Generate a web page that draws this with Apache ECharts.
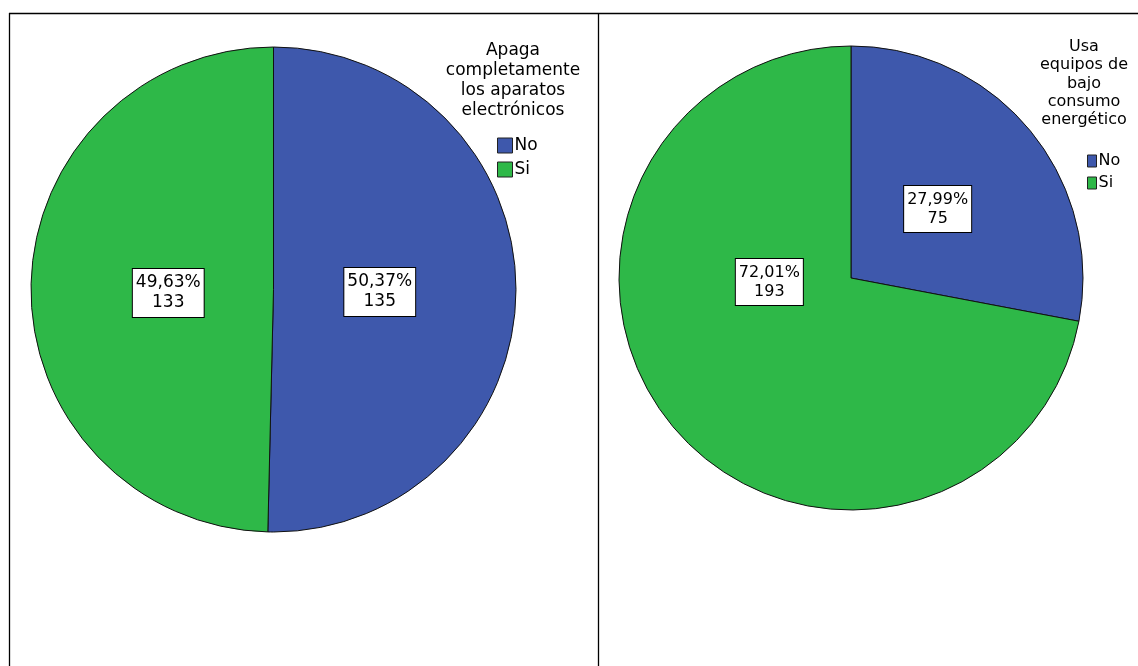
<!DOCTYPE html>
<html>
<head>
<meta charset="utf-8">
<script src="https://cdn.jsdelivr.net/npm/echarts@6/dist/echarts.min.js"></script>
<style>html,body{margin:0;padding:0;background:#fff}#c{width:1138px;height:666px}</style>
</head>
<body>
<div id="c"></div>
<script>
var categories = ['No', 'Si'];
var leftValues = [135, 133];
var rightValues = [75, 193];
var leftTitle = ['Apaga', 'completamente', 'los aparatos', 'electrónicos'];
var rightTitle = ['Usa', 'equipos de', 'bajo', 'consumo', 'energético'];
var colors = ['#3e58ac', '#2eb848'];

// label nudges (styling only), per series per slice
var labelShift = [[[-18, 1], [19, 5]], [[-5, 7], [10, -72]]];

function pct(values, i) {
  var s = values.reduce(function (a, b) { return a + b; }, 0);
  return (values[i] / s * 100).toFixed(2).replace('.', ',') + '%';
}
function makeData(values) {
  return categories.map(function (c, i) {
    return { name: c, value: values[i], itemStyle: { color: colors[i] } };
  });
}
var FONT = 'DejaVu Sans';
function pieSeries(idx, values, center, radius, fs, lh, pad) {
  return {
    type: 'pie',
    center: center,
    radius: radius,
    startAngle: 90,
    clockwise: true,
    avoidLabelOverlap: false,
    animation: false,
    silent: true,
    itemStyle: { borderColor: '#111', borderWidth: 1 },
    label: {
      show: true,
      position: 'inside',
      formatter: function (p) { return pct(values, p.dataIndex) + '\n' + values[p.dataIndex]; },
      color: '#000',
      fontFamily: FONT,
      fontSize: fs,
      lineHeight: lh,
      backgroundColor: '#fff',
      borderColor: '#000',
      borderWidth: 1,
      padding: pad,
      align: 'center'
    },
    labelLine: { show: false },
    labelLayout: function (p) {
      var d = labelShift[idx][p.dataIndex];
      return { dx: d[0], dy: d[1] };
    },
    emphasis: { disabled: true },
    data: makeData(values)
  };
}

var chart = echarts.init(document.getElementById('c'));
var s1 = pieSeries(0, leftValues, [273.5, 289.5], 242.5, 17, 20, [4, 3]);
var s2 = pieSeries(1, rightValues, [851, 278], 232, 16, 19, [4, 3]);
chart.setOption({
  backgroundColor: '#fff',
  animation: false,
  legend: [
    {
      data: categories, orient: 'vertical', left: 492, top: 132,
      itemWidth: 15, itemHeight: 15, itemGap: 7, icon: 'rect',
      itemStyle: { borderColor: '#222', borderWidth: 1 },
      textStyle: { fontFamily: FONT, fontSize: 17, color: '#000', padding: [0, 0, 0, -3] },
      selectedMode: false
    },
    {
      data: categories, orient: 'vertical', left: 1082, top: 148,
      itemWidth: 9, itemHeight: 12, itemGap: 6, icon: 'rect',
      itemStyle: { borderColor: '#222', borderWidth: 1 },
      textStyle: { fontFamily: FONT, fontSize: 16, color: '#000', padding: [0, 0, 0, -3] },
      selectedMode: false
    }
  ],
  graphic: [
    { type: 'line', shape: { x1: 9, y1: 13.5, x2: 1138, y2: 13.5 }, style: { stroke: '#000', lineWidth: 1.3 } },
    { type: 'line', shape: { x1: 9.5, y1: 13, x2: 9.5, y2: 666 }, style: { stroke: '#000', lineWidth: 1.3 } },
    { type: 'line', shape: { x1: 598.5, y1: 13, x2: 598.5, y2: 666 }, style: { stroke: '#000', lineWidth: 1.3 } },
    { type: 'text', x: 513, y: 41, style: { text: leftTitle.join('\n'), fontFamily: FONT, fontSize: 17, lineHeight: 20, fill: '#000', textAlign: 'center', textVerticalAlign: 'top' } },
    { type: 'text', x: 1084, y: 38, style: { text: rightTitle.join('\n'), fontFamily: FONT, fontSize: 16, lineHeight: 18.2, fill: '#000', textAlign: 'center', textVerticalAlign: 'top' } }
  ],
  series: [s1, s2]
});
</script>
</body>
</html>
